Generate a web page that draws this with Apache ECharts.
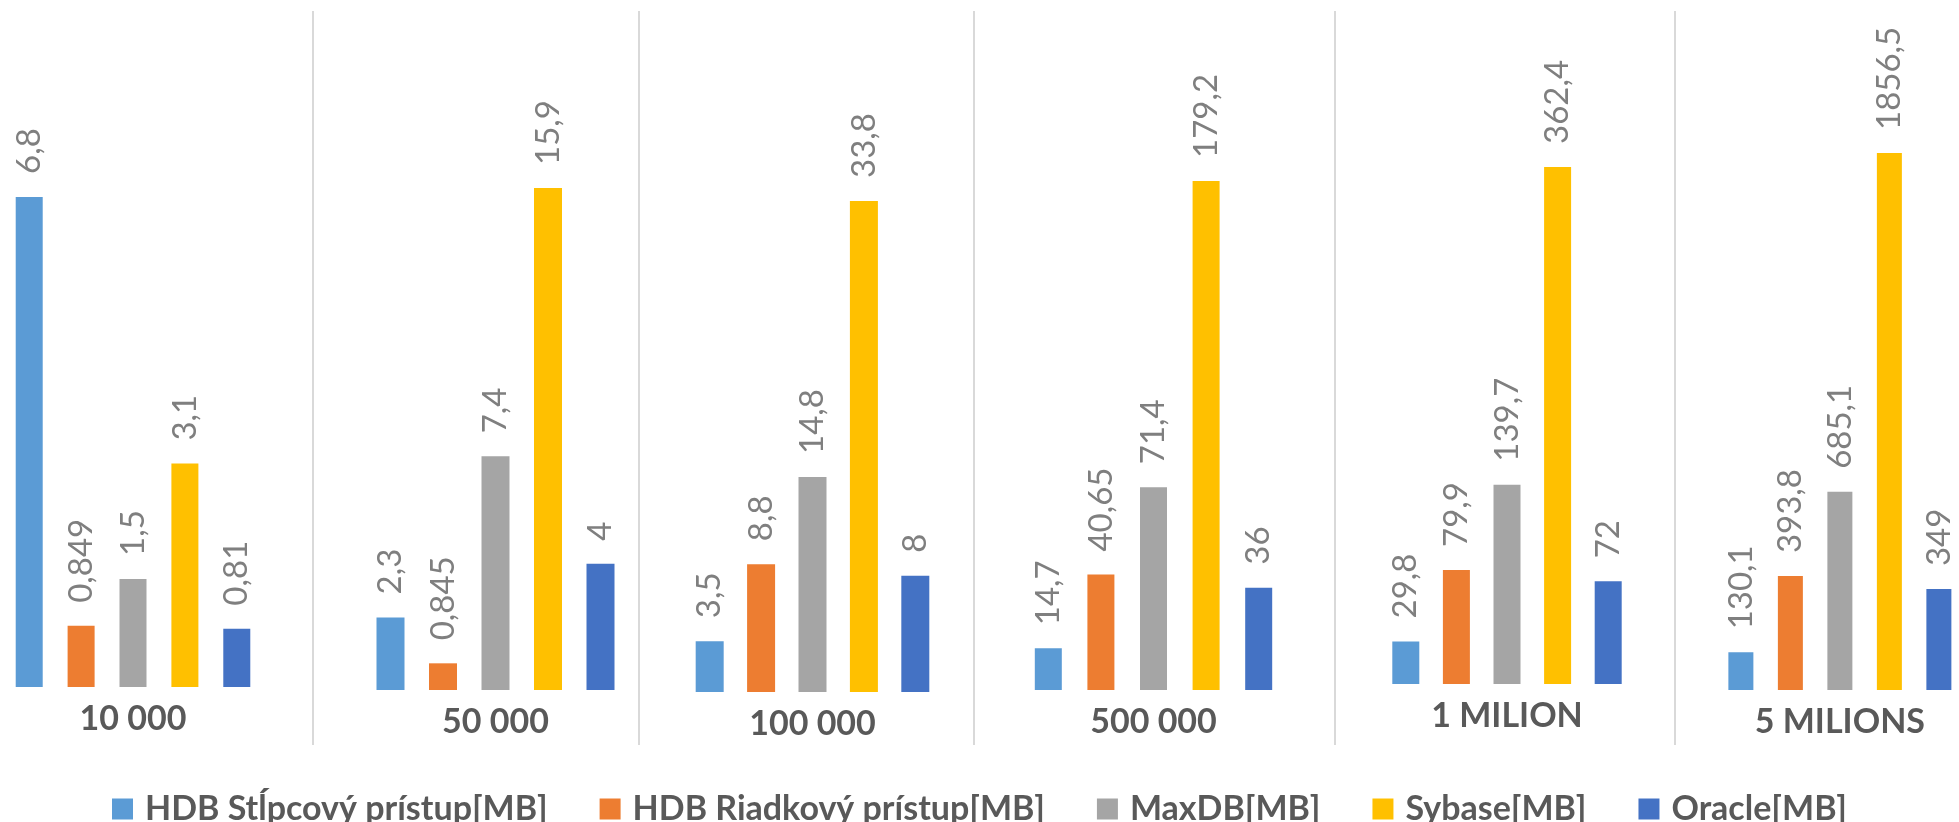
<!DOCTYPE html>
<html>
<head>
<meta charset="utf-8">
<script src="https://cdn.jsdelivr.net/npm/echarts@6/dist/echarts.min.js"></script>
<style>
html,body{margin:0;padding:0;background:#fff;}
#chart{width:1959px;height:822px;}
</style>
</head>
<body>
<div id="chart"></div>
<script>
// ---- data ----
const categories = ['10 000', '50 000', '100 000', '500 000', '1 MILION', '5 MILIONS'];
const seriesNames = ['HDB Stĺpcový prístup[MB]', 'HDB Riadkový prístup[MB]', 'MaxDB[MB]', 'Sybase[MB]', 'Oracle[MB]'];
const hdbColumn = [6.8, 2.3, 3.5, 14.7, 29.8, 130.1];
const hdbRow    = [0.849, 0.845, 8.8, 40.65, 79.9, 393.8];
const maxDB     = [1.5, 7.4, 14.8, 71.4, 139.7, 685.1];
const sybase    = [3.1, 15.9, 33.8, 179.2, 362.4, 1856.5];
const oracle    = [0.81, 4, 8, 36, 72, 349];
const seriesValues = [hdbColumn, hdbRow, maxDB, sybase, oracle];
const seriesColors = ['#5B9BD5', '#ED7D31', '#A5A5A5', '#FFC000', '#4472C4'];

// ---- layout of the six panels (pixels) ----
const panelCenter   = [133, 495.5, 812.5, 1153.5, 1507, 1844.5];
const panelPitch    = [51.9, 52.5, 51.4, 52.6, 50.6, 49.5];
const panelBarWidth = [27, 28, 28, 27, 27, 25];
const panelBaseline = [687, 690, 692, 690, 684, 690];
const panelTop      = [197, 188, 201, 181, 167, 153];
const dividerX      = [313, 639, 974, 1335, 1675];

const H = 822;
const FONT = 'Lato';

const grids = [], xAxes = [], yAxes = [], series = [];
categories.forEach((cat, i) => {
  const w = panelPitch[i] * 5;
  grids.push({
    left: panelCenter[i] - w / 2,
    width: w,
    top: panelTop[i],
    bottom: H - panelBaseline[i]
  });
  xAxes.push({
    type: 'category', gridIndex: i, data: [cat],
    axisLine: {show: false}, axisTick: {show: false}, splitLine: {show: false},
    axisLabel: {margin: 15, fontFamily: FONT, fontSize: 34, fontWeight: 'bold', color: '#595959'}
  });
  const panelMax = Math.max(...seriesValues.map(v => v[i]));
  yAxes.push({type: 'value', gridIndex: i, min: 0, max: panelMax, show: false, splitLine: {show: false}});
});

seriesNames.forEach((name, s) => {
  categories.forEach((cat, i) => {
    const bw = panelBarWidth[i];
    series.push({
      type: 'bar', name: name,
      xAxisIndex: i, yAxisIndex: i,
      data: [seriesValues[s][i]],
      barWidth: bw,
      barGap: ((panelPitch[i] - bw) / bw * 100).toFixed(1) + '%',
      itemStyle: {color: seriesColors[s]},
      label: {
        show: true, position: 'top', rotate: 90, align: 'left', verticalAlign: 'middle',
        distance: 23, fontFamily: FONT, fontSize: 33, color: '#7F7F7F',
        formatter: p => String(p.value).replace('.', ',')
      }
    });
  });
});

const dividers = dividerX.map(x => ({
  type: 'line', silent: true,
  shape: {x1: x, y1: 11, x2: x, y2: 745},
  style: {stroke: '#D9D9D9', lineWidth: 2}
}));

const chart = echarts.init(document.getElementById('chart'), null, {renderer: 'canvas'});
chart.setOption({
  animation: false,
  backgroundColor: '#fff',
  grid: grids,
  xAxis: xAxes,
  yAxis: yAxes,
  series: series,
  graphic: dividers,
  legend: {
    data: seriesNames.map((n, s) => ({name: n, itemStyle: {color: seriesColors[s]}})),
    left: 'center', top: 787,
    icon: 'rect', itemWidth: 21, itemHeight: 21, itemGap: 52,
    textStyle: {fontFamily: FONT, fontSize: 34, fontWeight: 'bold', color: '#595959', lineHeight: 34, padding: [0, 0, 0, 7]}
  }
});
</script>
</body>
</html>
